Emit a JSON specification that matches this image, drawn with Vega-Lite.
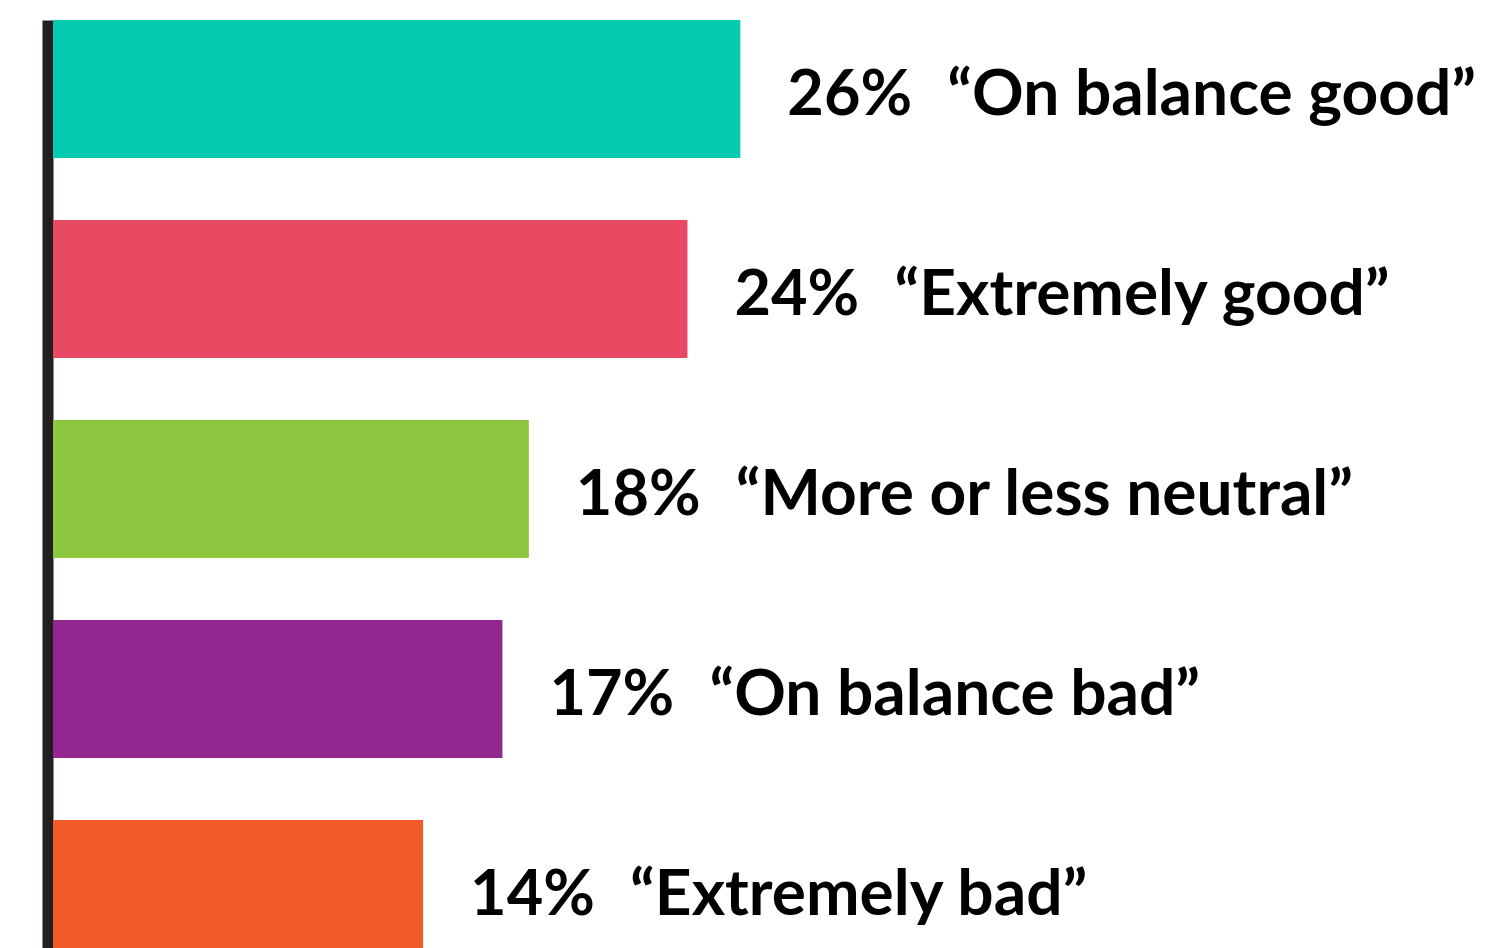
{
  "$schema": "https://vega.github.io/schema/vega-lite/v6.json",
  "width": 1454,
  "height": 938,
  "autosize": {"type": "none"},
  "padding": {"left": 53, "top": 20, "right": 5, "bottom": 0},
  "background": "#ffffff",
  "config": {"view": {"stroke": null}},
  "data": {
    "values": [
      {"label": "“On balance good”", "pct": "26%", "value": 26, "color": "#05CBB0"},
      {"label": "“Extremely good”", "pct": "24%", "value": 24, "color": "#E84A64"},
      {"label": "“More or less neutral”", "pct": "18%", "value": 18, "color": "#8DC63F"},
      {"label": "“On balance bad”", "pct": "17%", "value": 17, "color": "#92278F"},
      {"label": "“Extremely bad”", "pct": "14%", "value": 14, "color": "#F15A2B"}
    ]
  },
  "encoding": {
    "y": {
      "field": "label",
      "type": "nominal",
      "sort": null,
      "scale": {"paddingInner": 0.31, "paddingOuter": 0},
      "axis": {"labels": false, "ticks": false, "title": null, "domainColor": "#231F20", "domainWidth": 11, "offset": 5.5, "grid": false}
    },
    "x": {
      "field": "value",
      "type": "quantitative",
      "scale": {"domain": [0, 55], "nice": false, "zero": true},
      "axis": null
    }
  },
  "layer": [
    {
      "mark": {"type": "bar"},
      "encoding": {"color": {"field": "color", "type": "nominal", "scale": null}}
    },
    {
      "mark": {"type": "text", "align": "left", "baseline": "middle", "dx": 47, "dy": 7, "font": "Lato", "fontWeight": "bold", "fontSize": 63, "color": "#000000"},
      "encoding": {"text": {"field": "pct"}}
    },
    {
      "mark": {"type": "text", "align": "left", "baseline": "middle", "dx": 207, "dy": 7, "font": "Lato", "fontWeight": "bold", "fontSize": 64, "color": "#000000"},
      "encoding": {"text": {"field": "label"}}
    }
  ]
}
